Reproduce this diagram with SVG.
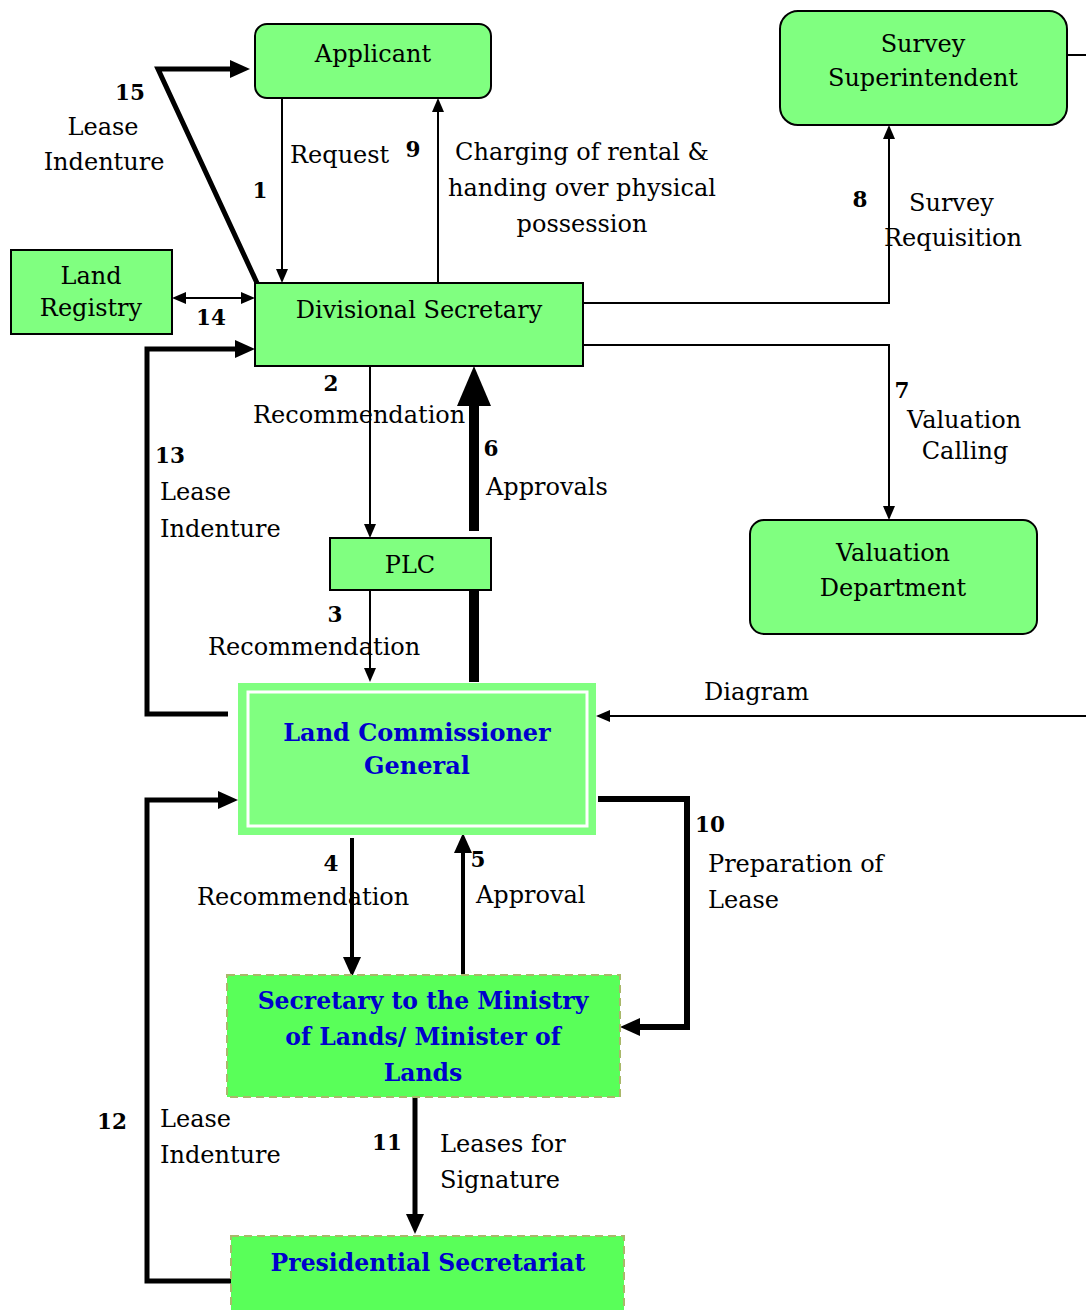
<svg xmlns="http://www.w3.org/2000/svg" width="1086" height="1310" viewBox="0 0 1086 1310">
<style>
.box{fill:#80FF80;stroke:#000;stroke-width:2}
.dbox{fill:#59FF59;stroke:#A9B86A;stroke-width:2;stroke-dasharray:8 5}
.t{font-family:"DejaVu Serif",serif;font-size:24px;fill:#000}
.m{text-anchor:middle}
.n{font-family:"DejaVu Serif",serif;font-size:21.5px;font-weight:bold;fill:#000;text-anchor:middle}
.b{font-family:"DejaVu Serif",serif;font-size:23.5px;font-weight:bold;fill:#0000CC;text-anchor:middle}
.c{fill:none;stroke:#000}
</style>
<defs>
<marker id="ah" markerUnits="userSpaceOnUse" markerWidth="14" markerHeight="12" refX="0" refY="6" orient="auto-start-reverse"><path d="M0,0 L14,6 L0,12 Z" fill="#000"/></marker>
<marker id="am" markerUnits="userSpaceOnUse" markerWidth="20" markerHeight="18" refX="0" refY="9" orient="auto"><path d="M0,0 L20,9 L0,18 Z" fill="#000"/></marker>
<marker id="ab" markerUnits="userSpaceOnUse" markerWidth="40" markerHeight="34" refX="0" refY="17" orient="auto"><path d="M0,0 L40,17 L0,34 Z" fill="#000"/></marker>
</defs>
<g id="connectors">
<line class="c" x1="282" y1="98" x2="282" y2="269" stroke-width="2" marker-end="url(#ah)"/>
<line class="c" x1="438" y1="283" x2="438" y2="112" stroke-width="2" marker-end="url(#ah)"/>
<polyline class="c" points="257,283 158,69 230,69" stroke-width="5" marker-end="url(#am)"/>
<line class="c" x1="186" y1="298" x2="241" y2="298" stroke-width="2" marker-start="url(#ah)" marker-end="url(#ah)"/>
<polyline class="c" points="228,714 147,714 147,349 235,349" stroke-width="5" marker-end="url(#am)"/>
<line class="c" x1="370" y1="366" x2="370" y2="524" stroke-width="2" marker-end="url(#ah)"/>
<line class="c" x1="474" y1="682" x2="474" y2="590" stroke-width="10"/>
<line class="c" x1="474" y1="531" x2="474" y2="406" stroke-width="10" marker-end="url(#ab)"/>
<line class="c" x1="370" y1="590" x2="370" y2="668" stroke-width="2" marker-end="url(#ah)"/>
<line class="c" x1="1086" y1="716" x2="610" y2="716" stroke-width="2" marker-end="url(#ah)"/>
<polyline class="c" points="583,345 889,345 889,506" stroke-width="2" marker-end="url(#ah)"/>
<polyline class="c" points="583,303 889,303 889,139" stroke-width="2" marker-end="url(#ah)"/>
<line class="c" x1="1067" y1="55" x2="1086" y2="55" stroke-width="2"/>
<line class="c" x1="352" y1="838" x2="352" y2="957" stroke-width="4" marker-end="url(#am)"/>
<line class="c" x1="463" y1="975" x2="463" y2="853" stroke-width="4" marker-end="url(#am)"/>
<polyline class="c" points="598,799 687,799 687,1027 640,1027" stroke-width="6" marker-end="url(#am)"/>
<line class="c" x1="415" y1="1097" x2="415" y2="1214" stroke-width="5" marker-end="url(#am)"/>
<polyline class="c" points="233,1281 147,1281 147,800 218,800" stroke-width="5" marker-end="url(#am)"/>
</g>
<g id="labels">
<text class="n" x="130" y="100">15</text>
<text class="t m" x="103" y="135">Lease</text>
<text class="t m" x="104" y="170">Indenture</text>
<text class="t" x="290" y="163">Request</text>
<text class="n" x="260" y="198">1</text>
<text class="n" x="413" y="157">9</text>
<text class="t m" x="582" y="160">Charging of rental &amp;</text>
<text class="t m" x="582" y="196">handing over physical</text>
<text class="t m" x="582" y="232">possession</text>
<text class="n" x="211" y="325">14</text>
<text class="n" x="860" y="207">8</text>
<text class="t" x="909" y="211">Survey</text>
<text class="t" x="884" y="246">Requisition</text>
<text class="n" x="331" y="391">2</text>
<text class="t" x="253" y="423">Recommendation</text>
<text class="n" x="170" y="463">13</text>
<text class="t" x="160" y="500">Lease</text>
<text class="t" x="160" y="537">Indenture</text>
<text class="n" x="491" y="456">6</text>
<text class="t" x="486" y="495">Approvals</text>
<text class="n" x="902" y="398">7</text>
<text class="t" x="907" y="428">Valuation</text>
<text class="t m" x="965" y="459">Calling</text>
<text class="n" x="335" y="622">3</text>
<text class="t" x="208" y="655">Recommendation</text>
<text class="t" x="704" y="700">Diagram</text>
<text class="n" x="710" y="832">10</text>
<text class="t" x="708" y="872">Preparation of</text>
<text class="t" x="708" y="908">Lease</text>
<text class="n" x="331" y="871">4</text>
<text class="t" x="197" y="905">Recommendation</text>
<text class="n" x="478" y="867">5</text>
<text class="t" x="476" y="903">Approval</text>
<text class="n" x="112" y="1129">12</text>
<text class="t" x="160" y="1127">Lease</text>
<text class="t" x="160" y="1163">Indenture</text>
<text class="n" x="387" y="1150">11</text>
<text class="t" x="440" y="1152">Leases for</text>
<text class="t" x="440" y="1188">Signature</text>
</g>
<g id="applicant"><rect class="box" x="255" y="24" width="236" height="74" rx="12"/><text class="t m" x="373" y="62">Applicant</text></g>
<g id="survey-superintendent"><rect class="box" x="780" y="11" width="287" height="114" rx="18"/><text class="t m" x="923" y="52">Survey</text><text class="t m" x="923" y="86">Superintendent</text></g>
<g id="land-registry"><rect class="box" x="11" y="250" width="161" height="84"/><text class="t m" x="91" y="284">Land</text><text class="t m" x="91" y="316">Registry</text></g>
<g id="divisional-secretary"><rect class="box" x="255" y="283" width="328" height="83"/><text class="t m" x="419" y="318">Divisional Secretary</text></g>
<g id="plc"><rect class="box" x="330" y="538" width="161" height="52"/><text class="t m" x="410" y="573">PLC</text></g>
<g id="valuation-department"><rect class="box" x="750" y="520" width="287" height="114" rx="14"/><text class="t m" x="893" y="561">Valuation</text><text class="t m" x="893" y="596">Department</text></g>
<g id="land-commissioner-general"><rect x="238" y="683" width="358" height="152" fill="#80FF80"/><rect x="248" y="692" width="339" height="134" fill="none" stroke="#fff" stroke-width="3"/><text class="b" x="417" y="741" style="font-size:24px">Land Commissioner</text><text class="b" x="417" y="774" style="font-size:24px">General</text></g>
<g id="secretary-ministry"><rect class="dbox" x="227" y="975" width="393" height="122"/><text class="b" x="423" y="1009">Secretary to the Ministry</text><text class="b" x="423" y="1045">of Lands/ Minister of</text><text class="b" x="423" y="1081">Lands</text></g>
<g id="presidential-secretariat"><rect class="dbox" x="231" y="1236" width="393" height="90"/><text class="b" x="428" y="1271">Presidential Secretariat</text></g>
</svg>
